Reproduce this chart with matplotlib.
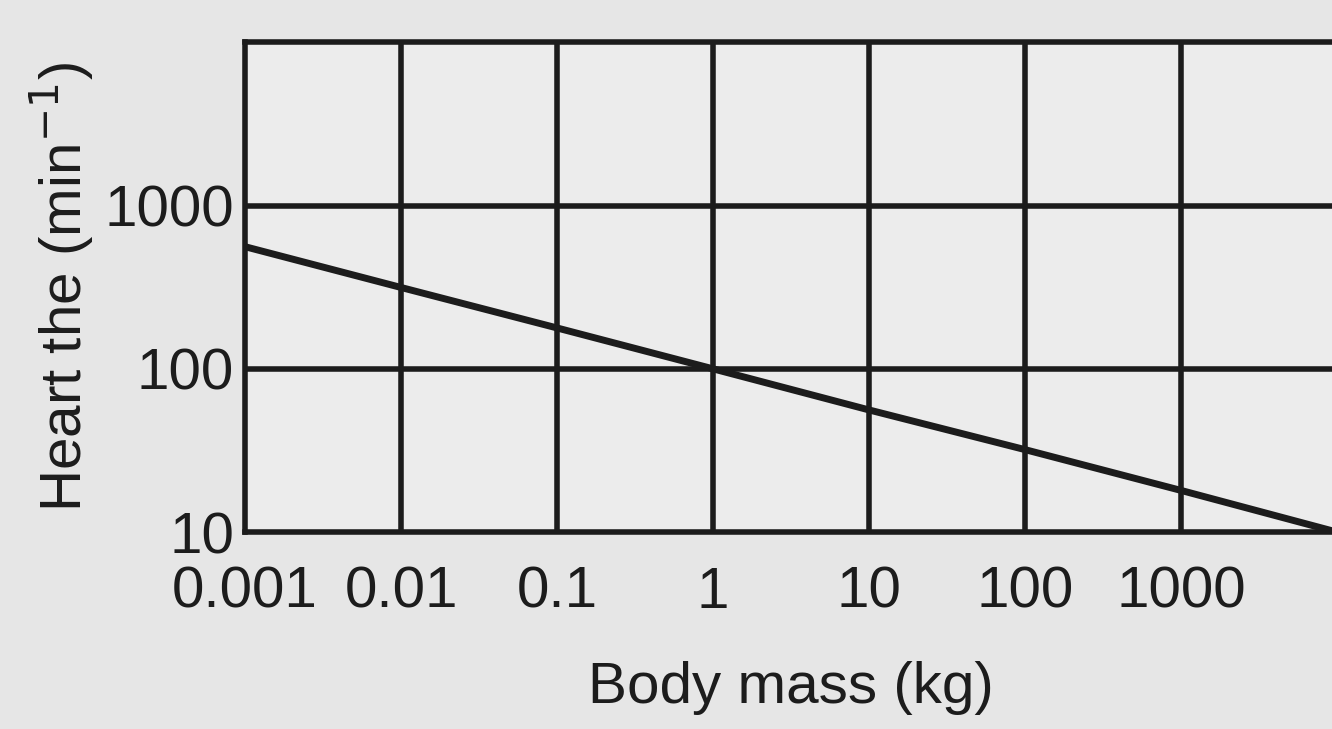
import numpy as np
import matplotlib.pyplot as plt
from matplotlib.ticker import FixedLocator, FixedFormatter

# values
body_mass = [0.001, 0.01, 0.1, 1, 10, 100, 1000, 10000]
heart_rate = [560, 315, 178, 100, 56, 32, 18, 10]

x_ticks = [0.001, 0.01, 0.1, 1, 10, 100, 1000]
x_labels = ['0.001', '0.01', '0.1', '1', '10', '100', '1000']
y_ticks = [10, 100, 1000]
y_labels = ['10', '100', '1000']

plt.rcParams['font.family'] = ['Liberation Sans', 'DejaVu Sans']

fig = plt.figure(figsize=(13.32, 7.29), dpi=100, facecolor='#e6e6e6')
ax = fig.add_axes([0.184, 0.27, 0.82, 0.672], facecolor='#ececec')

ink = '#1c1c1c'
ax.plot(body_mass, heart_rate, color=ink, lw=5.0, solid_capstyle='butt', zorder=3)

ax.set_xscale('log')
ax.set_yscale('log')
ax.set_xlim(0.001, 10000)
ax.set_ylim(10, 10000)

ax.xaxis.set_major_locator(FixedLocator(x_ticks))
ax.xaxis.set_major_formatter(FixedFormatter(x_labels))
ax.yaxis.set_major_locator(FixedLocator(y_ticks))
ax.yaxis.set_major_formatter(FixedFormatter(y_labels))
ax.xaxis.set_minor_locator(FixedLocator([]))
ax.yaxis.set_minor_locator(FixedLocator([]))

# full grid of decades, including the top line at 10000
for xv in x_ticks[1:]:
    ax.axvline(xv, color=ink, lw=4.0, zorder=2)
for yv in y_ticks[1:]:
    ax.axhline(yv, color=ink, lw=4.0, zorder=2)

for side in ['left', 'bottom', 'top']:
    ax.spines[side].set_color(ink)
    ax.spines[side].set_linewidth(4.0)
ax.spines['right'].set_visible(False)

ax.tick_params(axis='both', length=0, labelsize=42, colors=ink)
ax.tick_params(axis='x', pad=24)
ax.tick_params(axis='y', pad=8)

ax.set_xlabel('Body mass (kg)', fontsize=42, color=ink, labelpad=30)
ax.set_ylabel('Heart the (min$^{-1}$)', fontsize=42, color=ink, labelpad=6)

fig.savefig('out.png', dpi=100, facecolor=fig.get_facecolor())
